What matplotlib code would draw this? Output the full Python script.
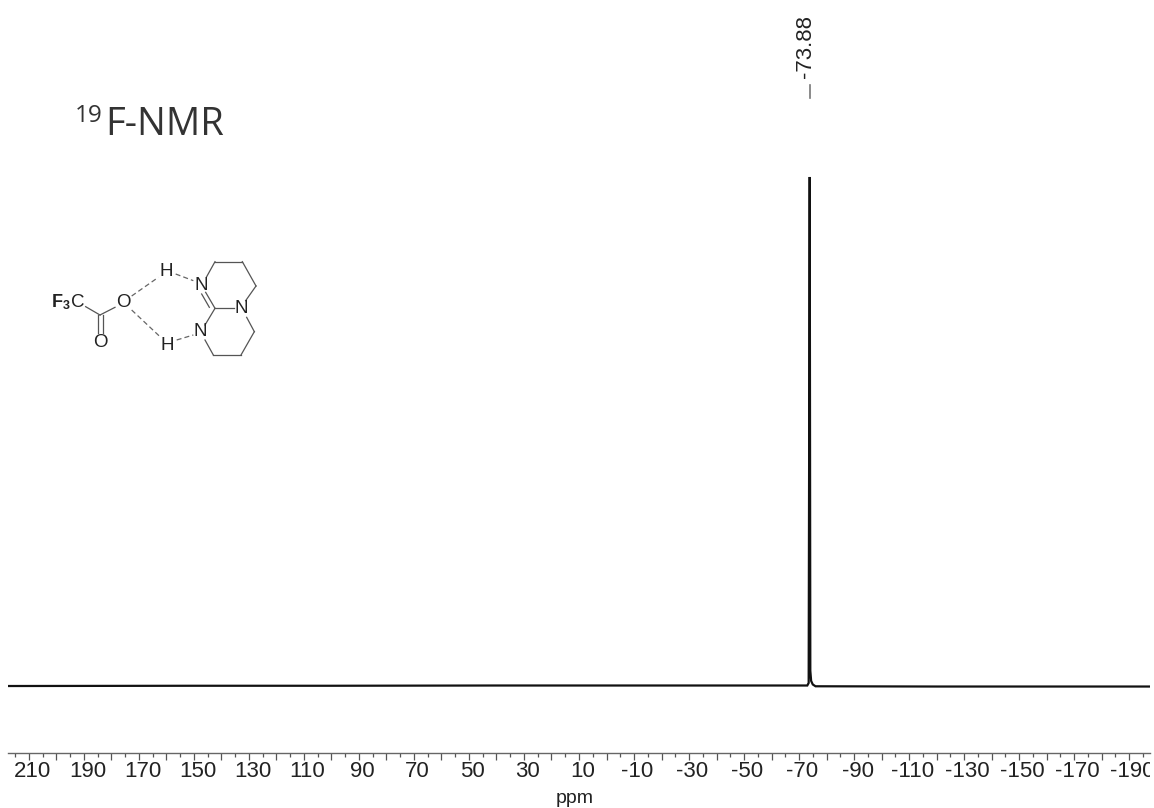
import matplotlib
matplotlib.use('Agg')
import matplotlib.pyplot as plt
from matplotlib.ticker import FixedLocator
from matplotlib.transforms import Bbox, ScaledTranslation
import numpy as np

W, H = 1154, 808

# spectrum
shift_ppm = [217.6, 150, 100, 40, -40, -73.0, -73.5, -73.88, -74.1, -74.4, -75.0, -76.0, -120, -197.6]
intensity = [0.0, 0.05, 0.05, 0.1, 0.1, 0.1, 0.6, 100, 3.0, 1.0, 0.3, -0.05, -0.1, -0.1]
peak_ppm = -73.88
peak_label = '-73.88'
major_ticks = list(range(210, -200, -10))
minor_ticks = list(range(215, -200, -10))
labelled_ticks = list(range(210, -200, -20))
tick_labels = [str(t) for t in labelled_ticks]

plt.rcParams['font.family'] = ['Liberation Sans', 'DejaVu Sans']

fig = plt.figure(figsize=(W / 100, H / 100), dpi=100)

# px helpers
def axes_rect(x0, y0, x1, y1):
    return [x0 / W, 1 - y1 / H, (x1 - x0) / W, (y1 - y0) / H]

ax = fig.add_axes(axes_rect(8, 150, 1150, 752.7))
ax.plot(shift_ppm, intensity, color='#111111', lw=1.6, solid_joinstyle='miter')
ax.set_xlim(217.6, -197.6)
ax.set_ylim(-13.1, 105.3)
ax.patch.set_visible(False)
for s in ['top', 'left', 'right']:
    ax.spines[s].set_visible(False)
ax.spines['bottom'].set_color('#666666')
ax.spines['bottom'].set_linewidth(1.0)
ax.set_yticks([])
ax.xaxis.set_major_locator(FixedLocator(major_ticks))
ax.xaxis.set_minor_locator(FixedLocator(minor_ticks))
ax.tick_params(axis='x', which='major', length=5, width=0.9, color='#555555', pad=2)
ax.tick_params(axis='x', which='minor', length=3, width=0.9, color='#555555')
ax.set_xticklabels([])

# tick labels sit a little right of their ticks and the last one is cut by the frame
off = ScaledTranslation(3.5 / 100, 0, fig.dpi_scale_trans)
clip = Bbox([[0, 0], [1150, H]])
for t, lab in zip(labelled_ticks, tick_labels):
    txt = ax.text(t, -0.032, lab, transform=ax.get_xaxis_transform() + off, fontsize=16,
                  ha='center', va='center', color='#222222')
    txt.set_clip_on(True)
    txt.set_clip_box(clip)
ax.text(0.4965, -0.0755, 'ppm', transform=ax.transAxes, fontsize=14, ha='center', va='center', color='#222222')

# overlay in pixel coords for the peak label, title and structure
ov = fig.add_axes([0, 0, 1, 1])
ov.set_xlim(0, W)
ov.set_ylim(H, 0)
ov.axis('off')

px = ax.transData.transform((peak_ppm, 0))[0]
ov.plot([px, px], [85, 98], color='#777777', lw=1.2)
ov.text(806, 47, peak_label, rotation=90, fontsize=16, ha='center', va='center', color='#222222')

ov.text(75, 122, '19', fontsize=17.5, family='Open Sans', va='baseline', ha='left', color='#333333')
ov.text(105, 135, 'F-NMR', fontsize=27.5, family='Open Sans', va='baseline', ha='left', color='#333333')

def sx(x):
    return 30 + x / 3

def sy(y):
    return 230 + y / 3

solid = [
    ((530, 140), (555, 95)), ((555, 95), (637, 95)), ((637, 95), (678, 168)), ((678, 168), (647, 212)),
    ((555, 235), (612, 235)), ((555, 235), (525, 285)), ((525, 330), (550, 375)), ((550, 375), (633, 375)),
    ((633, 375), (673, 305)), ((673, 305), (650, 262)), ((555, 235), (527, 187)), ((538, 232), (515, 192)),
    ((167, 230), (210, 255)), ((210, 255), (255, 232)), ((204, 255), (204, 310)), ((218, 255), (218, 310)),
]
dashed = [((437, 132), (490, 152)), ((440, 330), (490, 315)), ((305, 198), (385, 142)), ((305, 240), (390, 320))]
for a, b in solid:
    ov.plot([sx(a[0]), sx(b[0])], [sy(a[1]), sy(b[1])], color='#555555', lw=0.9)
for a, b in dashed:
    ov.plot([sx(a[0]), sx(b[0])], [sy(a[1]), sy(b[1])], color='#666666', lw=0.9, ls=(0, (4, 2.5)))
atoms = [('N', 514, 165), ('N', 635, 235), ('N', 510, 305), ('H', 410, 125), ('H', 412, 345), ('O', 280, 217), ('O', 210, 338)]
for lab, x, y in atoms:
    ov.text(sx(x), sy(y), lab, fontsize=13.5, ha='center', va='center', color='#222222')
ov.text(sx(66), sy(217), 'F', fontsize=13, fontweight='bold', ha='left', va='center', color='#222222')
ov.text(sx(99), sy(228), '3', fontsize=9, fontweight='bold', ha='left', va='center', color='#222222')
ov.text(sx(122), sy(217), 'C', fontsize=13.5, ha='left', va='center', color='#222222')

fig.savefig('out.png', dpi=100, facecolor='white')
